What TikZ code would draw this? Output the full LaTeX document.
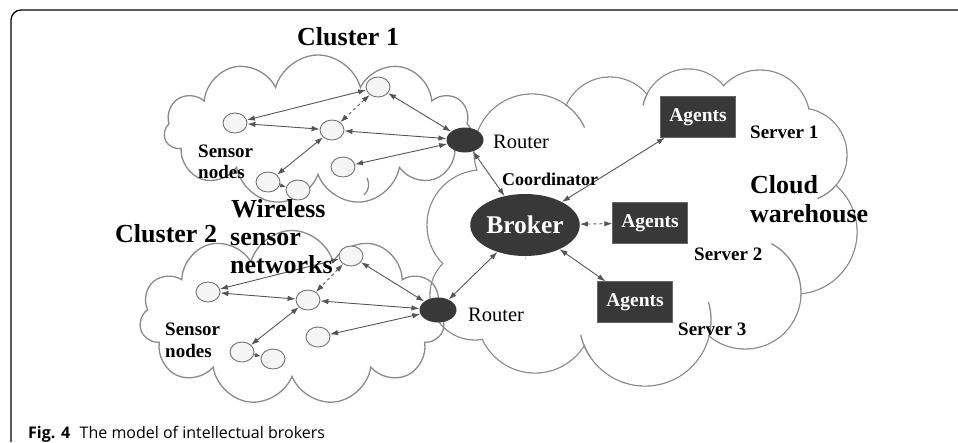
\documentclass[tikz,border=0pt]{standalone}
\usepackage{fontspec}
\setmainfont{Liberation Serif}
\newfontfamily\capfont{Open Sans}
\usetikzlibrary{shapes.geometric,shapes.symbols,arrows.meta}
\definecolor{darkfill}{HTML}{383838}
\definecolor{cloudline}{HTML}{8A8A8A}
\definecolor{linkline}{HTML}{555555}
\begin{document}
\begin{tikzpicture}[x=1pt,y=-1pt,
  cloudshape/.style={cloud, cloud puffs=#1, cloud ignores aspect, draw=cloudline, line width=1.3pt, inner sep=0pt},
  innerarc/.style={draw=cloudline, line width=1.3pt},
  sensor/.style={ellipse, draw=black!55, fill=black!4, line width=0.9pt, minimum width=24pt, minimum height=20pt, inner sep=0pt},
  router/.style={ellipse, fill=darkfill, minimum width=37pt, minimum height=25pt, inner sep=0pt},
  agentbox/.style={rectangle, fill=darkfill, draw=black!60, minimum width=75pt, minimum height=41pt, inner sep=0pt, text=white, font=\fontsize{19.5}{21}\selectfont\bfseries},
  link/.style={draw=linkline, line width=0.9pt, {Latex[length=8pt,width=5.5pt]}-{Latex[length=8pt,width=5.5pt]}},
  onelink/.style={draw=linkline, line width=0.9pt, -{Latex[length=6pt,width=4.5pt]}},
  bigtext/.style={anchor=base west, inner sep=0pt, font=\fontsize{26}{28}\selectfont\bfseries},
  midtext/.style={anchor=base west, inner sep=0pt, font=\fontsize{19}{20}\selectfont\bfseries},
  routertext/.style={anchor=base west, inner sep=0pt, font=\fontsize{20.5}{22}\selectfont},
]
\useasboundingbox (0,0) rectangle (958,442);
% frame
\draw[line width=1.2pt, rounded corners=10pt] (11,442) -- (11,10) -- (958,10);

% cloud warehouse: union of puffs
\foreach \cx/\cy/\r in {532/152/58, 610/125/48, 688/115/46, 760/120/50, 800/155/47, 795/232/62, 745/293/56, 645/320/66, 535/315/58, 475/295/45, 482/225/55}
  \draw[cloudline, line width=1.3pt] (\cx,\cy) circle[radius=\r];
\foreach \cx/\cy/\r in {532/152/58, 610/125/48, 688/115/46, 760/120/50, 800/155/47, 795/232/62, 745/293/56, 645/320/66, 535/315/58, 475/295/45, 482/225/55}
  \fill[white] (\cx,\cy) circle[radius=\r-0.7];
\fill[white] (640,220) circle[radius=120];
\fill[white] (750,190) circle[radius=45];
% inner tails of the warehouse puffs
\draw[innerarc] (532,152) ++(-55:58) arc[start angle=-55, end angle=-25, radius=58];
\draw[innerarc] (688,115) ++(192:46) arc[start angle=192, end angle=208, radius=46];
\draw[innerarc] (800,155) ++(40:47) arc[start angle=40, end angle=68, radius=47];
\draw[innerarc] (745,293) ++(-62:56) arc[start angle=-62, end angle=0, radius=56];
\draw[innerarc] (645,320) ++(-16:66) arc[start angle=-16, end angle=14, radius=66];
\draw[innerarc] (645,320) ++(145:66) arc[start angle=145, end angle=167, radius=66];

% cluster clouds
\node[cloudshape=11, minimum width=308pt, minimum height=150pt] (cloudA) at (318,130) {};
\node[cloudshape=11, minimum width=305pt, minimum height=175pt] (cloudB) at (292,318) {};
\draw[innerarc] (367,178) .. controls (370,184) and (369,190) .. (364,195);

% cluster 1
\node[sensor] (a1) at (235,123) {};
\node[sensor] (b1) at (378,87) {};
\node[sensor] (c1) at (332,130) {};
\node[sensor] (d1) at (343,167) {};
\node[sensor] (e1) at (268,182) {};
\node[sensor] (f1) at (298,190) {};
\node[router] (r1) at (465,140) {};

% cluster 2
\node[sensor] (a2) at (208,292) {};
\node[sensor] (b2) at (351,256) {};
\node[sensor] (c2) at (308,300) {};
\node[sensor] (d2) at (318,337) {};
\node[sensor] (e2) at (242,352) {};
\node[sensor] (f2) at (273,359) {};
\node[router] (r2) at (438,310) {};

% broker and agents
\node[ellipse, fill=darkfill, minimum width=92pt, minimum height=62pt, inner sep=0pt, text=white, font=\fontsize{25.5}{28}\selectfont\bfseries] (broker) at (525,225) {Broker};
\node[agentbox] (ag1) at (698,117) {Agents};
\node[agentbox] (ag2) at (650,223) {Agents};
\node[agentbox] (ag3) at (635,302) {Agents};

% links cluster 1
\draw[link] (a1) -- (b1);
\draw[link] (a1) -- (c1);
\draw[link, dashed] (b1) -- (c1);
\draw[link] (c1) -- (e1);
\draw[onelink] (e1) -- (f1);
\draw[link] (b1) -- (r1);
\draw[link] (c1) -- (r1);
\draw[link] (d1) -- (r1);
% links cluster 2
\draw[link] (a2) -- (b2);
\draw[link] (a2) -- (c2);
\draw[link, dashed] (b2) -- (c2);
\draw[link] (c2) -- (e2);
\draw[onelink] (e2) -- (f2);
\draw[link] (b2) -- (r2);
\draw[link] (c2) -- (r2);
\draw[link] (d2) -- (r2);
% broker links
\draw[link] (r1) -- (broker);
\draw[link] (r2) -- (broker);
\draw[link] (broker) -- (ag1);
\draw[link, dashed] (broker) -- (ag2);
\draw[link] (broker) -- (ag3);

% labels
\node[bigtext] (t-cl1) at (297,45) {Cluster 1};
\node[bigtext] (t-cl2) at (115,242) {Cluster 2};
\node[bigtext] (t-wl1) at (231,217) {Wireless};
\node[bigtext] (t-wl2) at (230,245) {sensor};
\node[bigtext] (t-wl3) at (230,273) {networks};
\node[bigtext] (t-cw1) at (750,193) {Cloud};
\node[bigtext] (t-cw2) at (750,222) {warehouse};
\node[midtext] (t-sn1) at (198,157) {Sensor};
\node[midtext] (t-sn2) at (198,178) {nodes};
\node[midtext] (t-sn3) at (165,335) {Sensor};
\node[midtext] (t-sn4) at (165,357) {nodes};
\node[routertext] (t-r1) at (493,148) {Router};
\node[routertext] (t-r2) at (468,321) {Router};
\node[midtext, font=\fontsize{18}{20}\selectfont\bfseries] (t-coord) at (502,185) {Coordinator};
\node[midtext] (t-s1) at (750,138) {Server 1};
\node[midtext] (t-s2) at (694,260) {Server 2};
\node[midtext] (t-s3) at (678,335) {Server 3};

% caption
\node[anchor=base west, inner sep=0pt, font=\capfont\fontsize{16}{18}\selectfont] (caption) at (28,438) {\textbf{Fig. 4}\hspace{0.6em}The model of intellectual brokers};
\end{tikzpicture}
\end{document}
